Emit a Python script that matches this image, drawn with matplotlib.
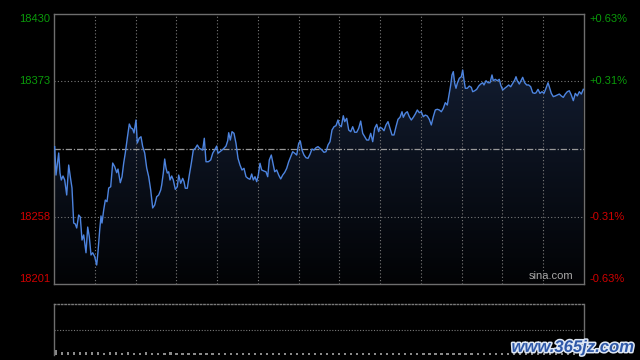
import matplotlib
matplotlib.use("Agg")
import matplotlib.pyplot as plt
import matplotlib.patheffects as pe
import numpy as np
from matplotlib.colors import LinearSegmentedColormap

# intraday index line: t = position along the session (0..530), price = index level
t = [0.7, 2.0, 4.7, 6.0, 7.3, 9.0, 10.7, 12.7, 14.7, 16.3, 18.0, 19.7, 21.3, 22.7,
     24.7, 26.3, 28.0, 29.7, 32.0, 33.7, 35.3, 37.0, 38.7, 40.7, 42.7, 44.0, 45.7,
     47.0, 48.0, 49.7, 51.3, 53.0, 54.7, 56.7, 58.7, 60.7, 62.7, 64.0, 66.3, 68.0,
     69.7, 71.3, 73.3, 75.3, 77.0, 78.7, 80.0, 82.0, 83.3, 85.3, 87.0, 88.7, 90.7,
     92.7, 94.7, 96.7, 98.7, 100.7, 102.7, 104.7, 106.7, 107.7, 109.3, 110.7, 112.0,
     113.3, 114.7, 116.0, 117.7, 119.3, 121.3, 123.3, 124.7, 126.7, 128.7, 130.0,
     131.3, 133.3, 135.3, 137.3, 139.3, 141.3, 143.3, 145.3, 147.3, 148.7, 150.3,
     152.0, 154.3, 156.7, 158.7, 161.0, 162.7, 164.0, 166.0, 168.0, 170.0, 172.0,
     173.7, 174.7, 176.3, 178.0, 180.0, 182.0, 184.0, 186.0, 188.0, 190.0, 192.0,
     194.0, 196.0, 197.7, 199.3, 201.0, 202.7, 204.3, 206.0, 207.7, 210.0, 212.0,
     213.7, 215.3, 217.3, 219.0, 220.7, 222.7, 224.7, 226.7, 228.7, 230.7, 232.7,
     234.7, 236.7, 238.7, 240.7, 242.7, 244.7, 246.3, 248.0, 250.0, 252.0, 254.0,
     256.0, 258.0, 260.0, 262.0, 264.0, 266.0, 268.0, 270.0, 272.0, 274.0, 276.0,
     278.0, 280.0, 282.0, 284.0, 285.3, 287.3, 289.3, 290.7, 292.7, 294.7, 296.7,
     298.7, 300.7, 302.7, 304.7, 306.7, 308.7, 310.7, 312.7, 314.7, 316.7, 318.7,
     320.7, 322.7, 324.7, 326.0, 328.0, 330.0, 332.0, 334.0, 336.0, 338.0, 340.0,
     342.0, 344.0, 346.0, 348.0, 349.3, 351.3, 353.3, 355.3, 357.3, 359.3, 361.3,
     363.3, 365.3, 367.3, 369.3, 371.3, 373.3, 375.3, 377.3, 379.3, 381.3, 383.3,
     385.3, 387.3, 389.3, 391.3, 393.3, 394.7, 396.7, 398.0, 399.3, 400.7, 402.0,
     403.3, 405.3, 407.3, 408.7, 410.0, 411.3, 413.3, 415.3, 417.3, 418.7, 420.7,
     422.7, 424.7, 426.7, 428.7, 430.0, 432.0, 434.0, 436.0, 438.0, 439.3, 441.3,
     443.3, 445.3, 446.7, 448.7, 450.7, 452.7, 454.7, 456.7, 458.7, 460.7, 462.0,
     463.3, 465.3, 467.3, 468.7, 470.7, 472.7, 474.7, 476.7, 478.7, 480.7, 482.0,
     484.0, 486.0, 488.0, 490.0, 492.0, 494.0, 495.3, 497.3, 499.3, 501.3, 503.3,
     505.3, 507.3, 509.3, 511.3, 513.3, 515.3, 517.3, 519.3, 521.3, 523.3, 525.3,
     527.3, 529.3]
price = [18317.5, 18293.4, 18312.1, 18295.1, 18289.2, 18292.6, 18289.2, 18276.5,
         18301.9, 18292.0, 18282.4, 18252.7, 18251.9, 18248.5, 18259.5, 18257.8,
         18238.3, 18242.6, 18227.5, 18249.3, 18241.1, 18225.6, 18227.5, 18224.2,
         18217.1, 18228.4, 18246.8, 18258.7, 18252.7, 18263.8, 18272.2, 18270.8,
         18282.4, 18283.5, 18303.6, 18300.5, 18295.4, 18298.5, 18286.9, 18292.0,
         18303.6, 18312.1, 18324.8, 18336.7, 18333.3, 18332.5, 18329.1, 18340.1,
         18320.6, 18324.8, 18325.9, 18317.5, 18312.1, 18299.4, 18292.0, 18280.7,
         18265.5, 18268.0, 18275.0, 18276.5, 18280.7, 18285.0, 18295.1, 18307.0,
         18299.4, 18295.1, 18296.2, 18289.2, 18292.6, 18289.2, 18281.3, 18283.5,
         18293.4, 18286.4, 18290.6, 18287.8, 18282.2, 18282.2, 18293.4, 18303.4,
         18314.6, 18316.1, 18318.9, 18316.1, 18315.2, 18314.6, 18324.6, 18304.7,
         18304.7, 18306.2, 18311.9, 18315.2, 18318.0, 18311.9, 18313.2, 18314.6,
         18316.1, 18318.0, 18322.5, 18329.3, 18323.1, 18330.2, 18328.8, 18320.3,
         18307.6, 18301.9, 18297.7, 18299.1, 18292.0, 18290.6, 18289.8, 18294.3,
         18289.2, 18292.0, 18287.8, 18293.4, 18303.4, 18297.7, 18296.8, 18296.2,
         18292.0, 18306.2, 18310.4, 18303.4, 18296.2, 18297.7, 18293.4, 18290.1,
         18293.4, 18295.7, 18299.1, 18304.7, 18309.0, 18313.2, 18311.9, 18310.4,
         18320.3, 18322.3, 18314.6, 18310.4, 18308.1, 18307.6, 18311.0, 18315.5,
         18314.6, 18316.6, 18317.5, 18316.1, 18314.6, 18312.7, 18313.2, 18318.9,
         18321.7, 18331.6, 18334.4, 18335.3, 18340.1, 18335.9, 18334.4, 18343.7,
         18338.7, 18341.5, 18331.6, 18330.2, 18334.4, 18329.7, 18329.7, 18333.1,
         18339.2, 18328.8, 18325.9, 18323.1, 18323.1, 18328.8, 18321.7, 18333.1,
         18336.4, 18330.2, 18333.9, 18333.1, 18331.0, 18335.9, 18338.7, 18333.1,
         18327.4, 18327.4, 18334.4, 18340.7, 18342.4, 18347.1, 18342.4, 18345.8,
         18347.1, 18342.9, 18340.1, 18342.4, 18345.2, 18348.6, 18346.3, 18347.1,
         18342.9, 18344.3, 18343.5, 18340.7, 18335.9, 18342.9, 18348.6, 18349.2,
         18348.6, 18347.1, 18350.0, 18354.8, 18352.8, 18359.9, 18369.8, 18378.3,
         18381.1, 18371.2, 18367.0, 18371.2, 18375.5, 18376.8, 18382.5, 18374.0,
         18367.0, 18367.0, 18368.9, 18367.8, 18364.1, 18364.9, 18366.1, 18368.9,
         18370.6, 18371.7, 18369.8, 18373.4, 18371.7, 18371.7, 18378.3, 18373.4,
         18374.6, 18373.4, 18374.6, 18369.8, 18365.5, 18367.0, 18368.3, 18369.8,
         18368.3, 18371.2, 18374.0, 18376.8, 18373.4, 18370.6, 18374.0, 18376.3,
         18371.7, 18369.8, 18369.8, 18368.3, 18363.2, 18362.7, 18363.2, 18366.1,
         18362.7, 18364.1, 18362.7, 18367.0, 18371.7, 18368.3, 18362.7, 18359.9,
         18360.5, 18361.3, 18362.1, 18360.5, 18359.3, 18362.1, 18364.1, 18364.9,
         18361.3, 18356.5, 18362.7, 18360.5, 18364.1, 18362.1, 18366.1]

prev_close = 18315.5
y_ticks = [18201, 18258, 18373, 18430]
y_labels = ["18201", "18258", "18373", "18430"]
pct_labels = ["-0.63%", "-0.31%", "+0.31%", "+0.63%"]

# tiny volume bars in the lower panel
vol = [9, 6, 5, 6, 5, 5, 6, 5, 4, 5, 5, 4, 5, 4, 4, 5, 4, 4, 4, 5, 4, 4, 3, 4, 4,
       3, 4, 3, 3, 4, 3, 3, 4, 3, 3, 3, 4, 3, 3, 3, 3, 4, 3, 3, 3, 3, 4, 3, 3, 3,
       3, 3, 4, 3, 3, 3, 3, 3, 4, 3, 3, 3, 3, 3, 4, 3, 3, 3, 3, 3, 4, 3, 3, 3, 3,
       4, 3, 3, 3, 3, 3, 4, 3, 3, 3, 3, 4, 3]

grid_col = "#7a7a7a"
spine_col = "#6e6e6e"
green = "#0a9a0a"
red = "#d00000"

plt.rcParams["font.family"] = ["Liberation Sans", "DejaVu Sans"]

fig = plt.figure(figsize=(6.4, 3.6), dpi=100, facecolor="black")
ax = fig.add_axes([54 / 640, 76 / 360, 530 / 640, 270 / 360])
ax.set_facecolor("black")

ymin, ymax = y_ticks[0], y_ticks[-1]
xmax = 530

# gradient fill under the line
poly = ax.fill_between(t, price, ymin, facecolor="none", edgecolor="none")
cmap = LinearSegmentedColormap.from_list("fade", ["#020305", "#16223a"])
grad = np.linspace(1, 0, 256).reshape(-1, 1)
im = ax.imshow(grad, extent=[0, xmax, ymin, ymax], aspect="auto", cmap=cmap,
               origin="upper", zorder=1)
im.set_clip_path(poly.get_paths()[0], transform=ax.transData)

# grid
for gx in np.linspace(0, xmax, 14)[1:-1]:
    ax.axvline(gx, color=grid_col, lw=0.8, ls=(0, (1, 2)), zorder=2)
for gy in y_ticks[1:-1]:
    ax.axhline(gy, color=grid_col, lw=0.8, ls=(0, (1, 2)), zorder=2)
ax.axhline(prev_close, color="#999999", lw=0.9, ls=(0, (5, 1.5, 1, 1.5)), zorder=2)

ax.plot(t, price, color="#4d84df", lw=1.0, zorder=3)

ax.set_xlim(0, xmax)
ax.set_ylim(ymin, ymax)
ax.set_xticks([])
ax.set_yticks([])
for s in ax.spines.values():
    s.set_color(spine_col)
    s.set_linewidth(1.0)

# axis labels, left prices and right percentages
for i, (v, lab, pct) in enumerate(zip(y_ticks, y_labels, pct_labels)):
    col = green if v > prev_close else red
    va = "center"
    if i == 0:
        va = "bottom"
    elif i == len(y_ticks) - 1:
        va = "top"
    ax.annotate(lab, xy=(0, v), xycoords=("axes fraction", "data"),
                xytext=(-2.5, 0), textcoords="offset points",
                ha="right", va=va, color=col, fontsize=8)
    ax.annotate(pct, xy=(1, v), xycoords=("axes fraction", "data"),
                xytext=(4, 0), textcoords="offset points",
                ha="left", va=va, color=col, fontsize=8)

ax.text(0.98, 0.012, "sina.com", transform=ax.transAxes, ha="right", va="bottom",
        color="#a8a8a8", fontsize=8, zorder=4)

# lower volume panel
ax2 = fig.add_axes([54 / 640, 5 / 360, 530 / 640, 51 / 360])
ax2.set_facecolor("black")
vx = np.linspace(2, xmax - 4, len(vol))
ax2.bar(vx, vol, width=2.2, color="#8a8a8a", align="center")
ax2.axhline(50, color=grid_col, lw=0.8, ls=(0, (1, 1.5)))
ax2.set_xlim(0, xmax)
ax2.set_ylim(0, 100)
ax2.set_xticks([])
ax2.set_yticks([])
for name, s in ax2.spines.items():
    s.set_color(spine_col)
    s.set_linewidth(1.0)
ax2.spines["top"].set_linestyle((0, (1, 1.5)))
ax2.spines["top"].set_color(grid_col)
ax2.spines["bottom"].set_visible(False)

fig.text(0.99, 0.035, "www.365jz.com", ha="right", va="center", color="#2e58a8",
         fontsize=12, fontweight="bold", fontstyle="italic",
         path_effects=[pe.withStroke(linewidth=2.2, foreground="#dfe8f5")])

fig.savefig("out.png", dpi=100, facecolor="black")
